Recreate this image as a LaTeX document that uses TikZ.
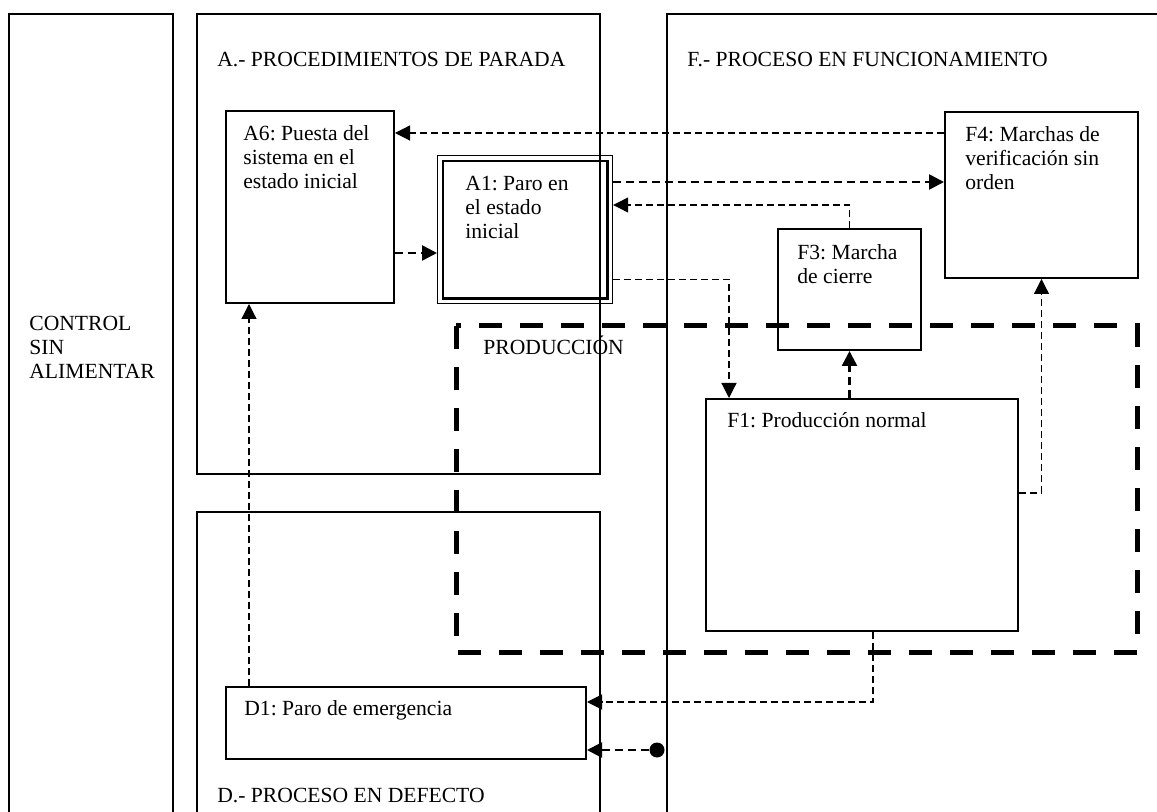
\documentclass[tikz,border=0pt]{standalone}
\usepackage{fontspec}
\setmainfont{Liberation Serif}
\frenchspacing
\usetikzlibrary{arrows.meta}
\tikzset{zone/.style={line width=1.1pt}}
\tikzset{box/.style={draw, line width=1pt, anchor=north west, inner sep=0pt}}
\tikzset{txt/.style={anchor=north west, inner sep=0pt, align=left}}
\tikzset{dot/.style={circle, fill, inner sep=0pt, minimum size=7.5pt}}
\tikzstyle{dashline} = [line width=0.6pt, dash pattern=on 3.5pt off 2pt, -{Triangle[length=7.5pt,width=7.5pt]}]
\tikzstyle{dashbold} = [line width=1.3pt, dash pattern=on 4pt off 2.5pt, -{Triangle[length=7.5pt,width=7.5pt]}]
\tikzstyle{prodzone} = [line width=2.5pt, dash pattern=on 11.5pt off 9pt]

\begin{document}
\begin{tikzpicture}[x=0.5pt,y=-0.5pt,every node/.style={font=\fontsize{10.8pt}{12pt}\selectfont}]
\useasboundingbox (0,0) rectangle (1157,812);

% zones
\draw[zone] (9,812) -- (9,14) -- (173,14) -- (173,812);
\draw[zone] (197,14) rectangle (600,474);
\draw[zone] (197,812) -- (197,512) -- (600,512) -- (600,812);
\draw[zone] (667,812) -- (667,14) -- (1157,14);
\draw[prodzone] (456,326) rectangle (1137,652);

\node[txt] (ctrl) at (29,316) {CONTROL\\SIN\\ALIMENTAR};
\node[anchor=base west, inner sep=0pt] (ttlA) at (217,67) {A.- PROCEDIMIENTOS DE PARADA};
\node[anchor=base west, inner sep=0pt] (ttlF) at (687,67) {F.- PROCESO EN FUNCIONAMIENTO};
\node[anchor=base west, inner sep=0pt] (ttlD) at (217,802) {D.- PROCESO EN DEFECTO};
\node[anchor=base west, inner sep=0pt] (prod) at (483,355) {PRODUCCIÓN};

% states
\node[box, minimum width=84pt, minimum height=96pt] (A6) at (225,110) {};
\node[txt] (A6t) at ([xshift=9pt,yshift=-7.5pt]A6.north west) {A6: Puesta del\\sistema en el\\estado inicial};

\node[box, line width=0.6pt, minimum width=87.5pt, minimum height=74pt] (A1) at (437,155) {};
\draw[line width=1.4pt] ([shift={(3pt,-3pt)}]A1.north west) rectangle ([shift={(-3pt,3pt)}]A1.south east);
\node[txt] (A1t) at ([xshift=14pt,yshift=-10.5pt]A1.north west) {A1: Paro en\\el estado\\inicial};

\node[box, minimum width=71.5pt, minimum height=60.5pt] (F3) at (777,228) {};
\node[txt] (F3t) at ([xshift=10pt,yshift=-8pt]F3.north west) {F3: Marcha\\de cierre};

\node[box, minimum width=96.5pt, minimum height=83pt] (F4) at (944,111) {};
\node[txt] (F4t) at ([xshift=10.5pt,yshift=-7.5pt]F4.north west) {F4: Marchas de\\verificación sin\\orden};

\node[box, minimum width=156pt, minimum height=116pt] (F1) at (705,398) {};
\node[txt] (F1t) at ([xshift=11pt,yshift=-7pt]F1.north west) {F1: Producción normal};

\node[box, minimum width=180pt, minimum height=36pt] (D1) at (225,686) {};
\node[txt] (D1t) at ([xshift=9.5pt,yshift=-7pt]D1.north west) {D1: Paro de emergencia};

\node[dot] (src) at (657,750) {};

% transitions
\coordinate (f4a) at ([yshift=-11pt]F4.north west);
\draw[dashline] (f4a) -- (f4a -| A6.east);

\coordinate (a6a) at ([yshift=-71.5pt]A6.north east);
\draw[dashbold] (a6a) -- (a6a -| A1.west);

\coordinate (a1a) at ([yshift=-13.5pt]A1.north east);
\draw[dashbold] (a1a) -- (a1a -| F4.west);

\coordinate (a1b) at ([yshift=-25pt]A1.north east);
\draw[dashline] (F3.north) |- (a1b);

\coordinate (a1c) at ([yshift=12.5pt]A1.south east);
\coordinate (f1a) at ([xshift=12pt]F1.north west);
\draw[dashline] (a1c) -| (f1a);

\draw[dashbold] (F3.south |- F1.north) -- (F3.south);

\coordinate (f1b) at ([yshift=-47.5pt]F1.north east);
\draw[dashline] (f1b) -| (F4.south);

\coordinate (f1c) at ([xshift=84pt]F1.south west);
\coordinate (d1a) at ([yshift=-8pt]D1.north east);
\draw[dashline] (f1c) |- (d1a);

\draw[dashbold] (src) -- (src -| D1.east);

\coordinate (d1b) at ([xshift=12pt]D1.north west);
\draw[dashline] (d1b) -- (d1b |- A6.south);
\end{tikzpicture}
\end{document}
